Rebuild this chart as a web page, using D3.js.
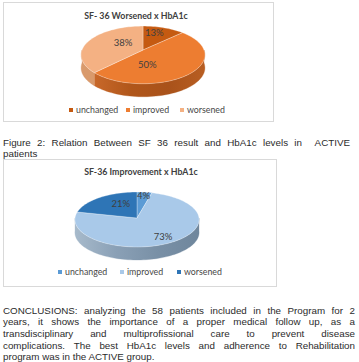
<!DOCTYPE html>
<html lang="en">
<head>
  <meta charset="UTF-8">
  <title>SF-36 x HbA1c</title>
  <script src="https://d3js.org/d3.v7.min.js"></script>
  <style>
    body { margin: 0; background: #fff; }
    .chart-text { font-family: Lato, "Open Sans", sans-serif; }
    .body-text { font-family: "Liberation Sans", Arial, sans-serif; fill: #2b2b2b; }
  </style>
</head>
<body>
  <div id="page"></div>
  <script>
    // data
    const categories = ["unchanged", "improved", "worsened"];
    const worsenedTitle = "SF- 36 Worsened x HbA1c";
    const worsenedValues = [13, 50, 38];
    const improvementTitle = "SF-36 Improvement x HbA1c";
    const improvementValues = [4, 73, 21];
    const captionLines = [
      "Figure 2: Relation Between SF 36 result and HbA1c levels in  ACTIVE",
      "patients"
    ];
    const conclusionLines = [
      "CONCLUSIONS: analyzing the 58 patients included in the Program for 2",
      "years, it shows the importance of a proper medical follow up, as a",
      "transdisciplinary and multiprofissional care to prevent disease",
      "complications. The best HbA1c levels and adherence to Rehabilitation",
      "program was in the ACTIVE group."
    ];

    const orangeColors = ["#c55a11", "#ed7d31", "#f4b183"];
    const blueColors = ["#5b9bd5", "#a9c9e9", "#2e75b6"];

    const W = 359, H = 362;
    const svg = d3.select("#page").append("svg")
      .attr("width", W).attr("height", H);
    const defs = svg.append("defs");

    function sideGradient(id, stops) {
      const gr = defs.append("linearGradient").attr("id", id)
        .attr("x1", "0%").attr("x2", "100%").attr("y1", "0%").attr("y2", "0%");
      stops.forEach((c, i) => gr.append("stop")
        .attr("offset", (i / (stops.length - 1) * 100) + "%").attr("stop-color", c));
      return "url(#" + id + ")";
    }

    // perspective projection of a tilted circle
    function proj(o, a, f, dy) {
      const u = Math.sin(a) * f, v = Math.cos(a) * f;
      const g = 1 / (1 + o.k * v);
      return [o.cx + o.rx * u * g, o.cy - o.ry * v * g + dy];
    }
    function arcPts(o, a0, a1, dy) {
      const n = Math.max(2, Math.ceil((a1 - a0) / 0.04));
      return d3.range(n + 1).map(i => proj(o, a0 + (a1 - a0) * i / n, 1, dy));
    }
    const line = d3.line();
    const rad = d3.scaleLinear().domain([0, 360]).range([0, Math.PI * 2]);

    function drawPie3D(o) {
      const g = svg.append("g");
      const arcs = d3.pie().sort(null).value(d => d)(o.values);

      // side walls (front half only)
      arcs.forEach((d, i) => {
        const s = Math.max(d.startAngle, Math.PI / 2);
        const e = Math.min(d.endAngle, Math.PI * 1.5);
        if (e <= s) return;
        const pts = arcPts(o, s, e, 0).concat(arcPts(o, s, e, o.depth).reverse());
        g.append("path")
          .attr("d", line(pts) + "Z")
          .attr("fill", o.sides[i])
          .attr("stroke", o.sides[i]).attr("stroke-width", 0.3);
      });

      // top faces
      arcs.forEach((d, i) => {
        const pts = [[o.cx, o.cy]].concat(arcPts(o, d.startAngle, d.endAngle, 0));
        g.append("path")
          .attr("d", line(pts) + "Z")
          .attr("fill", o.colors[i])
          .attr("stroke", "#ffffff").attr("stroke-opacity", 0.5).attr("stroke-width", 0.6);
      });

      // data labels (best-fit style placement)
      arcs.forEach((d, i) => {
        const mid = (d.startAngle + d.endAngle) / 2 + rad(o.labelShift[i]);
        const p = proj(o, mid, o.labelR[i], 0);
        g.append("text")
          .attr("class", "chart-text")
          .attr("x", p[0]).attr("y", p[1] + 3.5)
          .attr("text-anchor", "middle")
          .attr("font-size", 9.5).attr("fill", "#404040")
          .text(Math.round(d.data) + "%");
      });

      // title
      g.append("text")
        .attr("class", "chart-text")
        .attr("x", o.titleX).attr("y", o.titleY)
        .attr("text-anchor", "middle")
        .attr("font-size", 8.8).attr("font-weight", "bold").attr("fill", "#404040")
        .text(o.title);

      // legend
      categories.forEach((c, i) => {
        const lx = o.legendX[i];
        g.append("rect")
          .attr("x", lx - 2).attr("y", o.legendY - 5)
          .attr("width", 4).attr("height", 4)
          .attr("fill", o.colors[i]);
        g.append("text")
          .attr("class", "chart-text")
          .attr("x", lx + 5).attr("y", o.legendY)
          .attr("font-size", 8.8).attr("fill", "#474747")
          .text(c);
      });
    }

    // chart frames
    svg.append("rect").attr("x", 3.5).attr("y", 2.5).attr("width", 270).attr("height", 119)
      .attr("fill", "none").attr("stroke", "#d9d9d9");
    svg.append("rect").attr("x", 3.5).attr("y", 159.5).attr("width", 273).attr("height", 127)
      .attr("fill", "none").attr("stroke", "#d9d9d9");

    drawPie3D({
      values: worsenedValues, title: worsenedTitle,
      colors: orangeColors,
      sides: [
        "#a34a0e",
        sideGradient("sideOrange", ["#c8682a", "#b0561a", "#a9521a", "#b85e22"]),
        "#d99a6c"
      ],
      cx: 143, cy: 50, rx: 61, ry: 28, k: 0.17, depth: 13,
      labelR: [0.74, 0.49, 0.45], labelShift: [-7, 37, 18],
      titleX: 136, titleY: 19,
      legendX: [71, 128, 182], legendY: 113
    });

    drawPie3D({
      values: improvementValues, title: improvementTitle,
      colors: blueColors,
      sides: [
        "#4a7fae",
        sideGradient("sideBlue", ["#a7bacb", "#8aa0b6", "#7990a6", "#6f869c"]),
        "#255f93"
      ],
      cx: 137, cy: 218, rx: 62, ry: 27.4, k: 0.055, depth: 13,
      labelR: [0.86, 0.78, 0.6], labelShift: [0, 0, 12],
      titleX: 141, titleY: 175,
      legendX: [60, 122, 179], legendY: 275
    });

    // justified paragraph lines
    function textLine(str, x0, x1, y, justify) {
      const g = svg.append("g").attr("class", "body-text").attr("font-size", 9.8);
      if (!justify) {
        g.append("text").attr("x", x0).attr("y", y).text(str);
        return;
      }
      const words = str.split(" ");
      const texts = words.map(w => g.append("text").attr("y", y).text(w));
      const widths = texts.map(t => t.node().getComputedTextLength());
      const gap = (x1 - x0 - d3.sum(widths)) / (words.length - 1);
      let x = x0;
      texts.forEach((t, i) => { t.attr("x", x); x += widths[i] + gap; });
    }

    textLine(captionLines[0], 3, 350, 146, true);
    textLine(captionLines[1], 3, 350, 157, false);

    conclusionLines.forEach((l, i) => {
      textLine(l, 3, 355, 313.5 + i * 11.7, i < conclusionLines.length - 1);
    });
  </script>
</body>
</html>
